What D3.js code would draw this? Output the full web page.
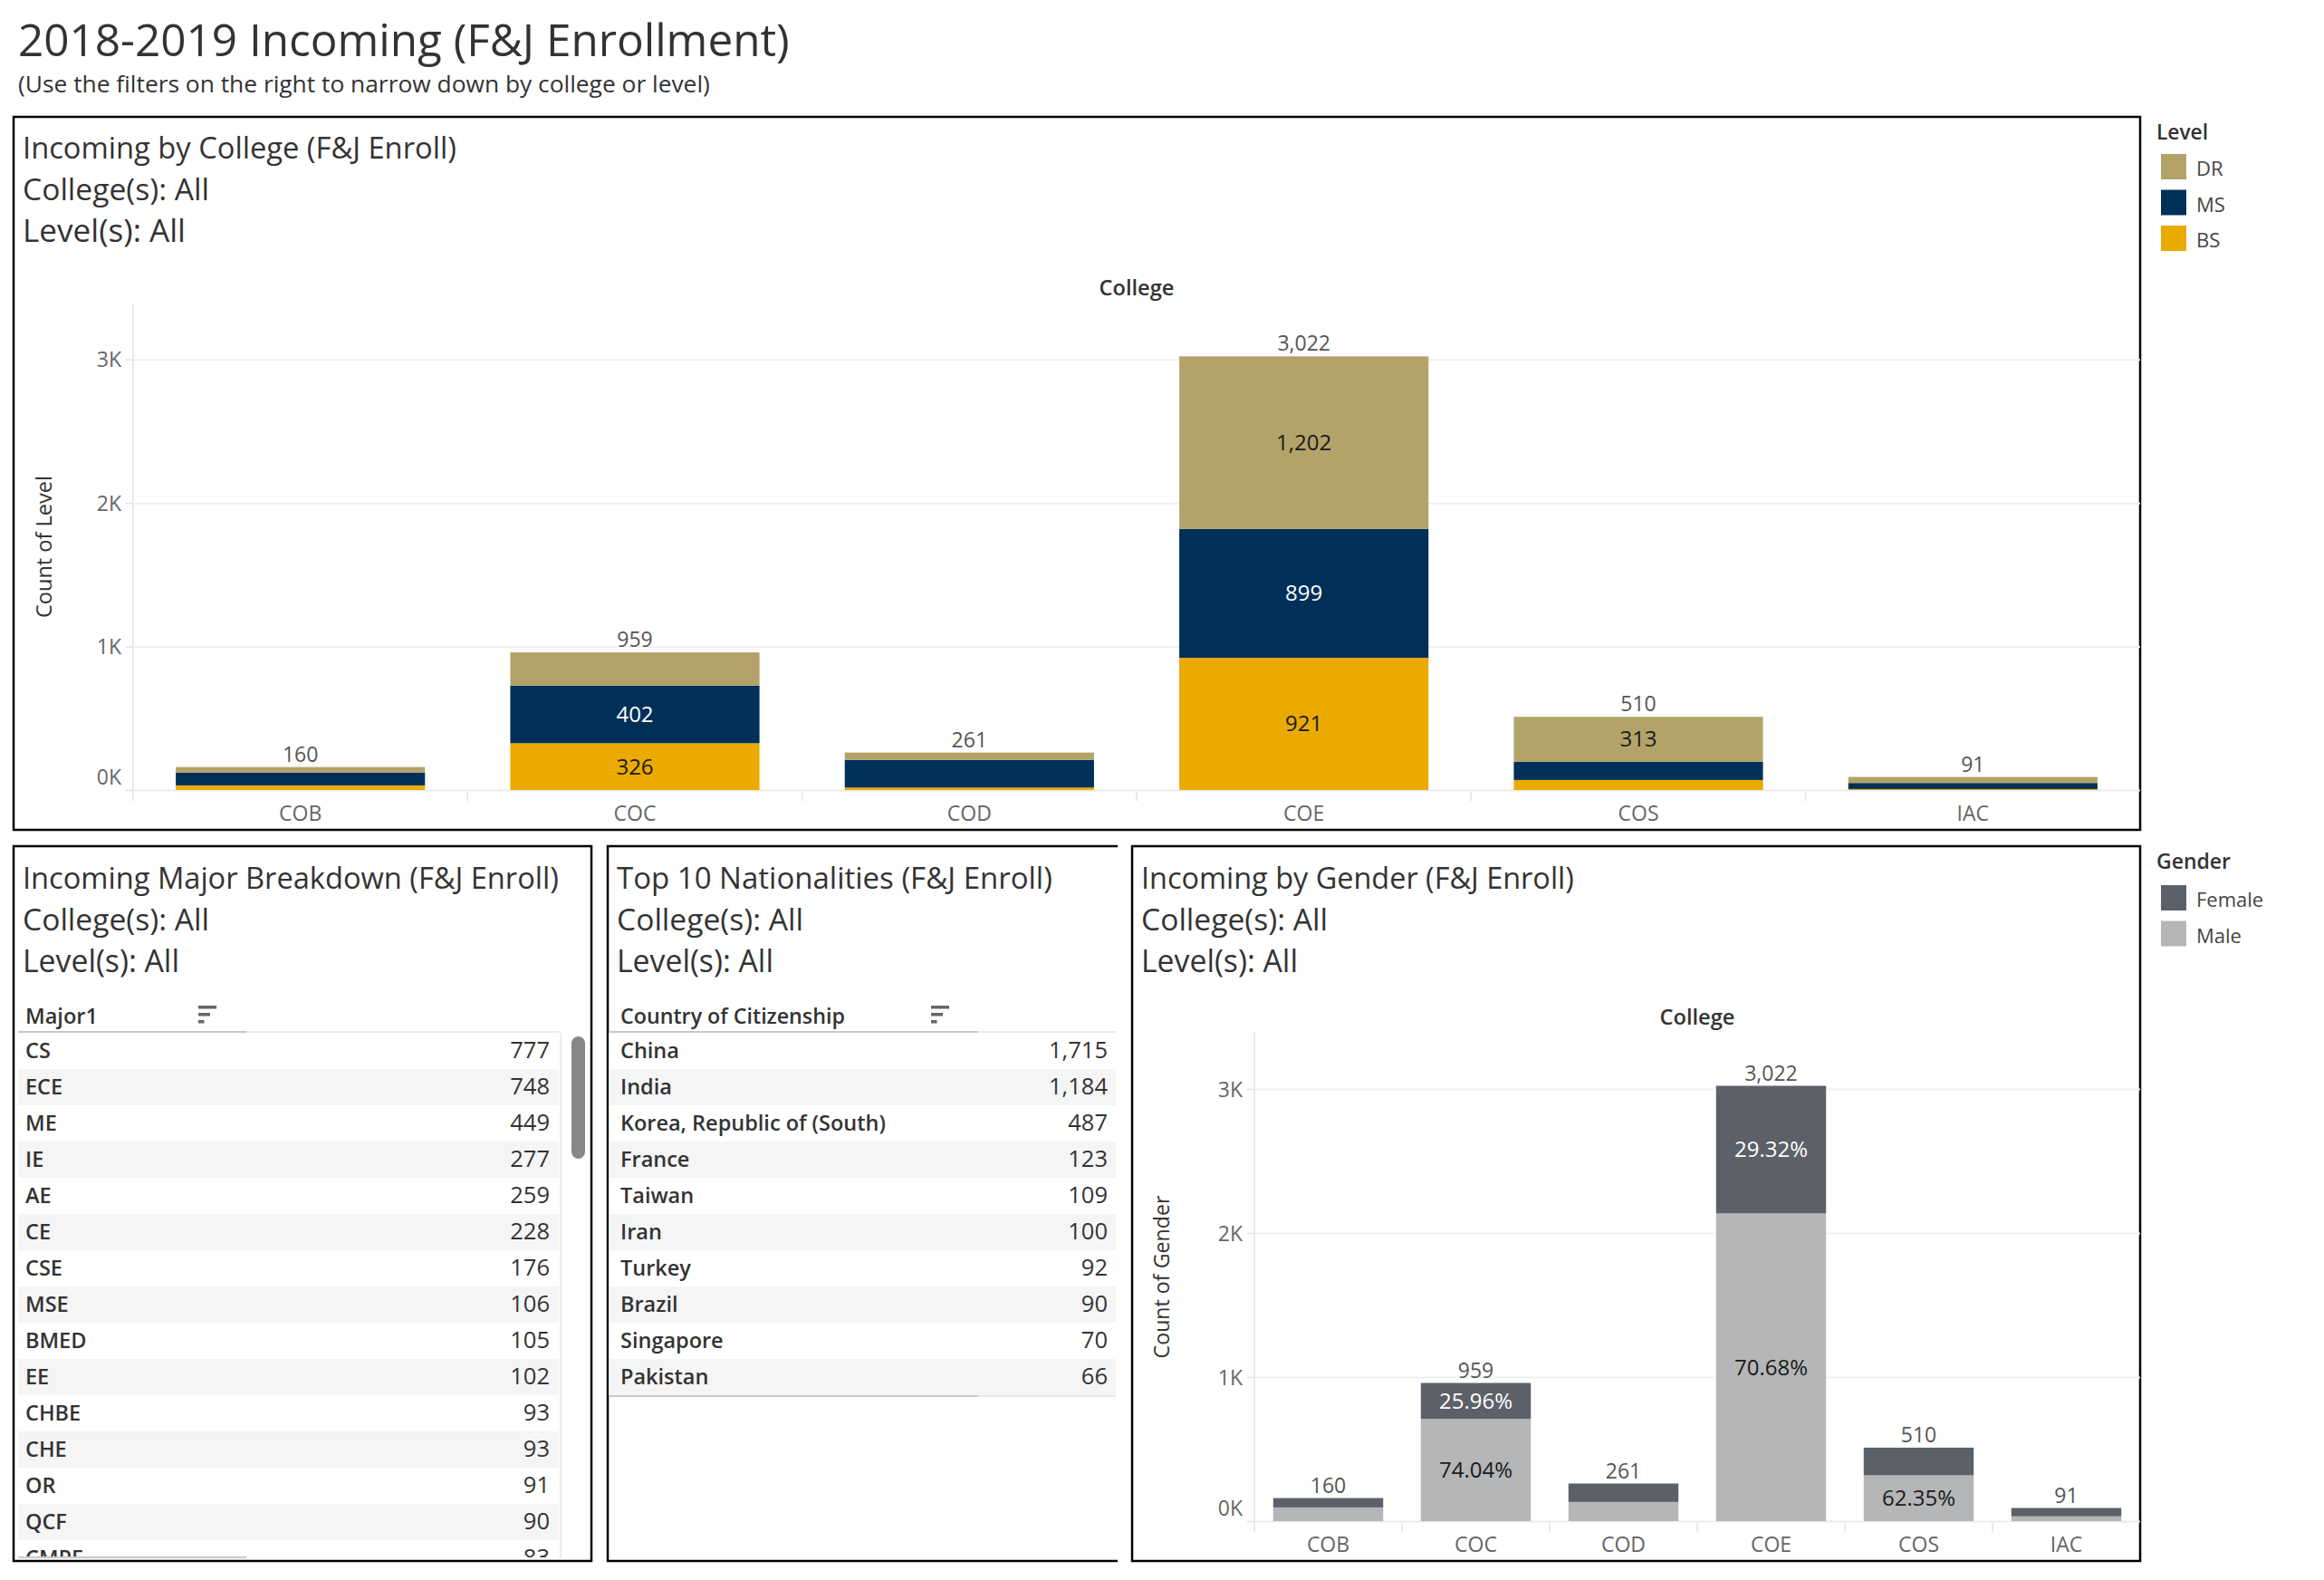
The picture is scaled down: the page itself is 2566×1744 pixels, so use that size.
<!DOCTYPE html>
<html><head><meta charset="utf-8">
<script src="https://cdn.jsdelivr.net/npm/d3@7"></script>
<style>
body{margin:0;background:#fff}
text{font-family:"Open Sans",sans-serif}
</style>
</head><body>
<svg id="chart" width="2566" height="1744"></svg>
<script>
// ---------------- data ----------------
const colleges = ["COB", "COC", "COD", "COE", "COS", "IAC"];
const levelStackOrder = ["BS", "MS", "DR"];
const levelLegend = ["DR", "MS", "BS"];
const bsCounts = [32, 326, 17, 921, 70, 7];
const msCounts = [89, 402, 193, 899, 127, 42];
const drCounts = [39, 231, 51, 1202, 313, 42];

const genderStackOrder = ["Male", "Female"];
const genderLegend = ["Female", "Male"];
const maleCounts = [95, 710, 133, 2136, 318, 33];
const femaleCounts = [65, 249, 128, 886, 192, 58];

const yTickValues = [0, 1000, 2000, 3000];

const majors = ["CS", "ECE", "ME", "IE", "AE", "CE", "CSE", "MSE", "BMED", "EE", "CHBE", "CHE", "OR", "QCF", "CMPE"];
const majorCounts = [777, 748, 449, 277, 259, 228, 176, 106, 105, 102, 93, 93, 91, 90, 83];

const countries = ["China", "India", "Korea, Republic of (South)", "France", "Taiwan", "Iran", "Turkey", "Brazil", "Singapore", "Pakistan"];
const countryCounts = [1715, 1184, 487, 123, 109, 100, 92, 90, 70, 66];

// ---------------- styles ----------------
const levelColors = {DR: "#B3A369", MS: "#003057", BS: "#EAAA00"};
const levelLabelColors = {DR: "#1a1a1a", MS: "#ffffff", BS: "#1a1a1a"};
const genderColors = {Female: "#5C6068", Male: "#B4B6B7"};
const genderLabelColors = {Female: "#ffffff", Male: "#1a1a1a"};
const TXT = "#333333";

const svg = d3.select("#chart");

function fit(sel, w) {
  const n = sel.node();
  const fs = parseFloat(sel.style("font-size"));
  const cw = n.getComputedTextLength();
  if (cw > 0) sel.style("font-size", (fs * w / cw) + "px");
  return sel;
}
function txt(g, x, y, s, size, opts = {}) {
  const t = g.append("text").attr("x", x).attr("y", y).text(s)
    .style("font-size", size + "px")
    .style("fill", opts.fill || TXT)
    .style("font-weight", opts.weight || 400)
    .attr("text-anchor", opts.anchor || "start");
  if (opts.w) fit(t, opts.w);
  return t;
}

// ---------------- page title ----------------
txt(svg, 20, 62, "2018-2019 Incoming (F&J Enrollment)", 49, {w: 852});
txt(svg, 20, 102, "(Use the filters on the right to narrow down by college or level)", 24, {w: 764});

// ---------------- panels ----------------
function panel(x0, y0, x1, y1, openRight) {
  const g = svg.append("g");
  if (openRight) {
    g.append("path").attr("d", `M${x1},${y0}H${x0}V${y1}H${x1}`)
      .attr("fill", "none").attr("stroke", "#000").attr("stroke-width", 2.5);
  } else {
    g.append("rect").attr("x", x0).attr("y", y0).attr("width", x1 - x0).attr("height", y1 - y0)
      .attr("fill", "none").attr("stroke", "#000").attr("stroke-width", 2.5);
  }
  return g;
}
panel(15, 129, 2363, 916);
panel(15, 934, 653, 1723);
panel(671, 934, 1234, 1723, true);
panel(1250, 934, 2363, 1723);

function panelTitles(x, baselines, lines, widths, size) {
  lines.forEach((s, i) => txt(svg, x, baselines[i], s, size, {w: widths[i]}));
}
panelTitles(25, [175, 221, 267], ["Incoming by College (F&J Enroll)", "College(s): All", "Level(s):  All"], [479, 206, 180], 33);
panelTitles(25, [981, 1027, 1073], ["Incoming Major Breakdown (F&J Enroll)", "College(s): All", "Level(s): All"], [592, 206, 173], 32);
panelTitles(681, [981, 1027, 1073], ["Top 10 Nationalities (F&J Enroll)", "College(s): All", "Level(s): All"], [481, 206, 173], 32);
panelTitles(1260, [981, 1027, 1073], ["Incoming by Gender (F&J Enroll)", "College(s): All", "Level(s): All"], [478, 206, 173], 33);

// ---------------- stacked bar chart ----------------
function stackedChart(o) {
  const g = svg.append("g");
  const rows = colleges.map((c, i) => {
    const r = {college: c};
    o.keys.forEach(k => r[k] = o.values[k][i]);
    r.total = d3.sum(o.keys, k => r[k]);
    return r;
  });
  const x = d3.scaleBand().domain(colleges).range([o.x0, o.x1]).paddingInner(0.255).paddingOuter(0.1275);
  const y = d3.scaleLinear().domain([0, o.yMax]).range([o.yBase, o.yTop]);

  // axis line & band separators
  g.append("line").attr("x1", o.x0).attr("x2", o.x0).attr("y1", o.yTop).attr("y2", o.yBase + 12)
    .attr("stroke", "#e3e3e3").attr("stroke-width", 1.5);
  colleges.slice(1).forEach(c => {
    const xs = x(c) - x.step() * x.paddingInner() / 2;
    g.append("line").attr("x1", xs).attr("x2", xs).attr("y1", o.yBase + 2).attr("y2", o.yBase + 12)
      .attr("stroke", "#e3e3e3").attr("stroke-width", 1.5);
  });

  // gridlines
  const grid = g.append("g").attr("transform", `translate(${o.x0},0)`)
    .call(d3.axisLeft(y).tickValues(yTickValues).tickSize(-(o.x1 - o.x0)).tickFormat(""));
  grid.select(".domain").remove();
  grid.selectAll(".tick line").attr("stroke", (d) => d === 0 ? "#ebebeb" : "#f0f0f0").attr("stroke-width", 2);

  // y ticks + labels
  const ax = g.append("g").attr("transform", `translate(${o.x0},0)`)
    .call(d3.axisLeft(y).tickValues(yTickValues).tickSize(8).tickPadding(5).tickFormat(d => (d / 1000) + "K"));
  ax.select(".domain").remove();
  ax.selectAll(".tick line").attr("stroke", "#e3e3e3").attr("stroke-width", 1.5);
  ax.selectAll(".tick text").style("font-size", "23px").style("fill", "#666")
    .style("font-family", '"Open Sans",sans-serif')
    .attr("dy", d => d === 0 ? "-0.3em" : "0.35em");

  // axis title
  const cy = (o.yBase + o.yTop) / 2;
  const at = g.append("text").attr("transform", `translate(${o.axisTitleX},${cy}) rotate(-90)`)
    .attr("text-anchor", "middle").attr("dy", "0.35em").text(o.axisTitle)
    .style("font-size", "22px").style("fill", TXT);
  fit(at, o.axisTitleW);

  // header
  txt(g, (o.x0 + o.x1) / 2, o.headerY, "College", 23, {anchor: "middle", weight: 600, w: 83});

  // x labels
  g.selectAll(".xl").data(colleges).join("text").attr("class", "xl")
    .attr("x", c => x(c) + x.bandwidth() / 2).attr("y", o.xLabelY).attr("text-anchor", "middle")
    .text(c => c).style("font-size", "23px").style("fill", "#666");

  // bars
  const series = d3.stack().keys(o.keys)(rows);
  series.forEach(s => {
    g.append("g").selectAll("rect").data(s).join("rect")
      .attr("x", d => x(d.data.college)).attr("width", x.bandwidth())
      .attr("y", d => y(d[1])).attr("height", d => y(d[0]) - y(d[1]))
      .attr("fill", o.colors[s.key]);
    g.append("g").selectAll("text").data(s.filter(d => (y(d[0]) - y(d[1])) >= 38)).join("text")
      .attr("x", d => x(d.data.college) + x.bandwidth() / 2)
      .attr("y", d => (y(d[0]) + y(d[1])) / 2).attr("dy", "0.35em").attr("text-anchor", "middle")
      .text(d => o.fmt(d[1] - d[0], d.data.total))
      .style("font-size", "24px").style("fill", o.labelColors[s.key]);
  });
  // totals
  g.selectAll(".tot").data(rows).join("text").attr("class", "tot")
    .attr("x", d => x(d.college) + x.bandwidth() / 2).attr("y", d => y(d.total) - 6)
    .attr("text-anchor", "middle").text(d => d3.format(",")(d.total))
    .style("font-size", "23px").style("fill", "#555");
}

stackedChart({
  x0: 147, x1: 2363, yBase: 872, yTop: 335, yMax: 3390,
  keys: levelStackOrder, values: {BS: bsCounts, MS: msCounts, DR: drCounts},
  colors: levelColors, labelColors: levelLabelColors,
  fmt: (v) => d3.format(",")(v),
  axisTitle: "Count of Level", axisTitleX: 49, axisTitleW: 157,
  headerY: 326, xLabelY: 906
});
stackedChart({
  x0: 1385, x1: 2363, yBase: 1679, yTop: 1140, yMax: 3390,
  keys: genderStackOrder, values: {Male: maleCounts, Female: femaleCounts},
  colors: genderColors, labelColors: genderLabelColors,
  fmt: (v, t) => d3.format(".2%")(v / t),
  axisTitle: "Count of Gender", axisTitleX: 1283, axisTitleW: 180,
  headerY: 1131, xLabelY: 1713
});

// ---------------- legends ----------------
function legend(x, titleY, title, titleW, items, colors, firstY) {
  const g = svg.append("g");
  txt(g, x, titleY, title, 20, {weight: 600, w: titleW});
  items.forEach((k, i) => {
    const yy = firstY + i * 39.5;
    g.append("rect").attr("x", x + 5).attr("y", yy).attr("width", 28).attr("height", 28).attr("fill", colors[k]);
    txt(g, x + 44, yy + 24, k, 22, {fill: "#444"});
  });
}
legend(2381, 154, "Level", 57, levelLegend, levelColors, 170);
legend(2381, 959, "Gender", 82, genderLegend, genderColors, 977);

// ---------------- tables ----------------
// derive row fonts from reference widths
const probe = svg.append("text").text("Korea, Republic of (South)").style("font-size", "22px").style("font-weight", 600);
fit(probe, 293);
const rowLabelSize = parseFloat(probe.style("font-size"));
probe.remove();
const probe2 = svg.append("text").text("1,715").style("font-size", "22px");
fit(probe2, 65);
const rowValueSize = parseFloat(probe2.style("font-size"));
probe2.remove();

function table(o) {
  const g = svg.append("g");
  const clipId = "clip" + o.x0;
  svg.append("clipPath").attr("id", clipId).append("rect")
    .attr("x", o.x0).attr("y", o.rowTop).attr("width", o.x1 - o.x0).attr("height", o.clipBottom - o.rowTop);
  const rows = o.labels.map((l, i) => ({label: l, value: o.values[i], i}));
  const yb = d3.scaleBand().domain(rows.map(r => r.i)).range([o.rowTop, o.rowTop + rows.length * 40]);
  const body = g.append("g").attr("clip-path", `url(#${clipId})`);
  body.selectAll("rect").data(rows).join("rect")
    .attr("x", o.x0).attr("width", o.x1 - o.x0).attr("y", r => yb(r.i)).attr("height", yb.bandwidth())
    .attr("fill", r => r.i % 2 ? "#f5f5f5" : "#ffffff");
  body.selectAll(".lab").data(rows).join("text").attr("class", "lab")
    .attr("x", o.labelX).attr("y", r => yb(r.i) + 28).text(r => r.label)
    .style("font-size", rowLabelSize + "px").style("font-weight", 600).style("fill", TXT);
  body.selectAll(".val").data(rows).join("text").attr("class", "val")
    .attr("x", o.valueX).attr("y", r => yb(r.i) + 28).attr("text-anchor", "end")
    .text(r => d3.format(",")(r.value))
    .style("font-size", rowValueSize + "px").style("fill", TXT);
  // header
  txt(g, o.labelX, 1130, o.header, 22, {weight: 600, w: o.headerW});
  [[0, 20], [8, 13], [16, 6.5]].forEach(([dy, w]) => {
    g.append("rect").attr("x", o.iconX).attr("y", 1110 + dy).attr("width", w).attr("height", 3.5).attr("fill", "#666");
  });
  g.append("line").attr("x1", o.x0).attr("x2", o.split).attr("y1", o.rowTop - 1).attr("y2", o.rowTop - 1)
    .attr("stroke", "#c8c8c8").attr("stroke-width", 2);
  g.append("line").attr("x1", o.split).attr("x2", o.x1).attr("y1", o.rowTop - 1).attr("y2", o.rowTop - 1)
    .attr("stroke", "#e4e4e4").attr("stroke-width", 1.5);
  if (o.bottomLine) {
    const yl = o.rowTop + rows.length * 40 + 1;
    g.append("line").attr("x1", o.x0).attr("x2", o.split).attr("y1", yl).attr("y2", yl)
      .attr("stroke", "#c8c8c8").attr("stroke-width", 2);
    g.append("line").attr("x1", o.split).attr("x2", o.x1).attr("y1", yl).attr("y2", yl)
      .attr("stroke", "#e4e4e4").attr("stroke-width", 1.5);
  }
  return g;
}

const tm = table({x0: 20, x1: 617, rowTop: 1140, clipBottom: 1719, labels: majors, values: majorCounts,
  labelX: 28, valueX: 607, header: "Major1", headerW: 80, iconX: 219, split: 272});
// scrollbar for majors table
tm.append("line").attr("x1", 619).attr("x2", 619).attr("y1", 1140).attr("y2", 1720).attr("stroke", "#e4e4e4").attr("stroke-width", 1.5);
tm.append("rect").attr("x", 631).attr("y", 1144).attr("width", 15).attr("height", 135).attr("rx", 7.5).attr("fill", "#888");
tm.append("line").attr("x1", 20).attr("x2", 272).attr("y1", 1719).attr("y2", 1719).attr("stroke", "#c8c8c8").attr("stroke-width", 2);

table({x0: 672, x1: 1232, rowTop: 1140, clipBottom: 1719, labels: countries, values: countryCounts,
  labelX: 685, valueX: 1223, header: "Country of Citizenship", headerW: 248, iconX: 1028, split: 1080, bottomLine: true});
</script>
</body></html>
